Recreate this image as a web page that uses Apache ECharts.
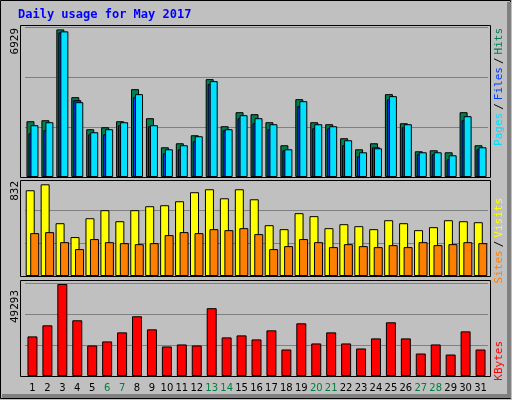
<!DOCTYPE html>
<html>
<head>
<meta charset="utf-8">
<script src="https://cdn.jsdelivr.net/npm/echarts@6/dist/echarts.min.js"></script>
<style>
html, body { margin: 0; padding: 0; background: #c0c0c0; }
#chart { width: 512px; height: 400px; }
</style>
</head>
<body>
<div id="chart"></div>
<script>
const days = ['1','2','3','4','5','6','7','8','9','10','11','12','13','14','15','16','17','18','19','20','21','22','23','24','25','26','27','28','29','30','31'];
const weekend = ['6','7','13','14','20','21','27','28'];
const hits = [2618,2665,6929,3747,2242,2336,2618,4124,2760,1395,1584,1960,4594,2383,3042,2948,2571,1490,3653,2571,2477,1819,1301,1584,3889,2524,1207,1254,1160,3042,1490];
const pages = [2054,2195,6789,3606,2007,2007,2430,3748,2383,1113,1301,1678,4359,2195,2760,2524,2242,1254,3324,2289,2289,1490,972,1395,3653,2336,1066,1066,831,2666,1301];
const files = [2430,2571,6836,3512,2101,2242,2571,3889,2430,1301,1490,1913,4500,2242,2901,2760,2477,1301,3559,2477,2383,1725,1160,1348,3795,2477,1160,1160,1019,2854,1395];
const visits = [778,832,479,353,524,597,497,597,633,642,678,760,787,705,787,696,461,425,570,543,434,470,452,425,506,479,416,443,506,497,488];
const sites = [389,398,307,244,335,307,298,289,298,371,398,389,425,416,434,380,244,271,335,307,262,289,271,262,280,262,307,280,289,307,298];
const kbytes = [21228,27165,49293,29863,16371,18530,23387,32022,25006,15831,16911,16371,36340,20689,21768,19609,24466,14212,28244,17450,23387,17450,14752,20149,28784,20149,12053,16911,11514,23927,14212];

const chart = echarts.init(document.getElementById('chart'));
const mono = 'DejaVu Sans Mono';
const panels = [[25, 152], [180, 96], [280, 96]];
const grids = panels.map(p => ({ left: 25, right: 24, top: p[0], height: p[1] }));
const frames = panels.map(p => ({
    type: 'rect', shape: { x: 20.5, y: p[0] + 0.5, width: 470, height: p[1] },
    style: { fill: 'none', stroke: '#000', lineWidth: 1 }, z: 100
}));

const xAxis = [0, 1, 2].map(i => ({
    type: 'category', gridIndex: i, data: days,
    axisLine: { show: false }, axisTick: { show: false },
    axisLabel: i < 2 ? { show: false } : {
        interval: 0, margin: 7, fontFamily: 'DejaVu Sans', fontSize: 10,
        color: v => weekend.includes(v) ? '#008040' : '#000'
    }
}));
const yAxis = [[7135, 2350], [871, 298], [51450, 16500]].map((m, i) => ({
    type: 'value', gridIndex: i, min: 0, max: m[0], interval: m[1],
    axisLabel: { show: false }, axisLine: { show: false }, axisTick: { show: false },
    splitLine: { lineStyle: { color: '#808080', width: 1 } }
}));

const bar = (name, data, idx, color, width, gap) => ({
    name, type: 'bar', data, xAxisIndex: idx, yAxisIndex: idx,
    barWidth: width, barGap: gap, animation: false,
    itemStyle: { color, borderColor: '#000', borderWidth: 1 }
});

const sideText = (x, y, text, rich) => ({
    type: 'text', x, y, rotation: Math.PI / 2,
    style: { text, rich, align: 'right', verticalAlign: 'middle', font: '11px ' + mono, fill: '#000' }
});

chart.setOption({
    backgroundColor: '#c0c0c0',
    grid: grids,
    xAxis, yAxis,
    series: [
        bar('Hits', hits, 0, '#008050', 8, '-75%'),
        bar('Pages', pages, 0, '#0040ff', 8, '-75%'),
        bar('Files', files, 0, '#00e0ff', 8, '-75%'),
        bar('Visits', visits, 1, '#ffff00', 9, '-50%'),
        bar('Sites', sites, 1, '#ff8000', 9, '-50%'),
        bar('KBytes', kbytes, 2, '#ff0000', 10, '0%')
    ],
    graphic: frames.concat([
        { type: 'rect', shape: { x: 0.5, y: 0.5, width: 510, height: 398 }, style: { fill: 'none', stroke: '#000' } },
        { type: 'rect', shape: { x: 2, y: 394, width: 509, height: 4 }, style: { fill: '#808080' } },
        { type: 'rect', shape: { x: 507, y: 2, width: 4, height: 396 }, style: { fill: '#808080' } },
        { type: 'text', x: 18, y: 15, style: { text: 'Daily usage for May 2017', font: 'bold 12px ' + mono, fill: '#0000ff', verticalAlign: 'middle' } },
        sideText(15, 28, '6929'),
        sideText(15, 181, '832'),
        sideText(15, 290, '49293'),
        sideText(499, 28, '{p|Pages}{k|/}{f|Files}{k|/}{h|Hits}', {
            p: { fill: '#00e0ff', font: '11px ' + mono },
            f: { fill: '#0040ff', font: '11px ' + mono },
            h: { fill: '#008050', font: '11px ' + mono },
            k: { fill: '#000', font: '11px ' + mono, padding: [0, 3] }
        }),
        sideText(499, 198, '{s|Sites}{k|/}{v|Visits}', {
            s: { fill: '#ff8000', font: '11px ' + mono },
            v: { fill: '#ffff00', font: '11px ' + mono },
            k: { fill: '#000', font: '11px ' + mono, padding: [0, 3] }
        }),
        sideText(499, 341, '{r|KBytes}', { r: { fill: '#ff0000', font: '11px ' + mono } })
    ])
});
</script>
</body>
</html>
